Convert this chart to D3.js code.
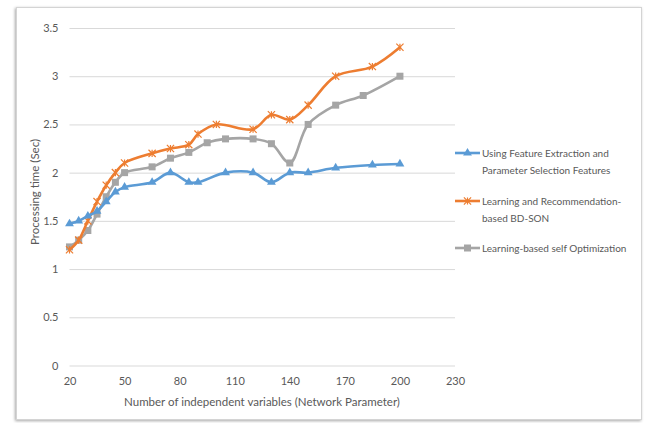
<!DOCTYPE html>
<html>
<head>
<meta charset="utf-8">
<script src="https://cdn.jsdelivr.net/npm/d3@7"></script>
<style>
  html, body { margin: 0; padding: 0; background: #fff; }
  svg { display: block; }
  text { font-family: Lato, "Open Sans", sans-serif; fill: #595959; }
</style>
</head>
<body>
<svg id="chart" width="649" height="423"></svg>
<script>
// Processing time per number of independent variables, three approaches
const seriesNames = [
  ["Using Feature Extraction and", "Parameter Selection Features"],
  ["Learning and Recommendation-", "based BD-SON"],
  ["Learning-based self Optimization"]
];
const seriesColors = ["#5B9BD5", "#ED7D31", "#A5A5A5"];
const seriesMarkers = ["triangle", "asterisk", "square"];

const featureX = [20, 25, 30, 35, 40, 45, 50, 65, 75, 85, 90, 105, 120, 130, 140, 150, 165, 185, 200];
const featureY = [1.47, 1.5, 1.55, 1.6, 1.7, 1.8, 1.85, 1.9, 2.0, 1.9, 1.9, 2.0, 2.0, 1.9, 2.0, 2.0, 2.05, 2.08, 2.09];

const recommendX = [20, 25, 30, 35, 40, 45, 50, 65, 75, 85, 90, 100, 120, 130, 140, 150, 165, 185, 200];
const recommendY = [1.2, 1.3, 1.5, 1.7, 1.87, 2.0, 2.1, 2.2, 2.25, 2.29, 2.4, 2.5, 2.45, 2.6, 2.55, 2.7, 3.0, 3.1, 3.3];

const selfOptX = [20, 25, 30, 35, 40, 45, 50, 65, 75, 85, 95, 105, 120, 130, 140, 150, 165, 180, 200];
const selfOptY = [1.23, 1.3, 1.4, 1.57, 1.75, 1.9, 2.0, 2.06, 2.15, 2.21, 2.31, 2.35, 2.35, 2.3, 2.1, 2.5, 2.7, 2.8, 3.0];

const xTicks = [20, 50, 80, 110, 140, 170, 200, 230];
const yTicks = [0, 0.5, 1, 1.5, 2, 2.5, 3, 3.5];
const xTitle = "Number of independent variables (Network Parameter)";
const yTitle = "Processing time (Sec)";

const series = [
  { name: seriesNames[0], color: seriesColors[0], marker: seriesMarkers[0], pts: featureX.map((x, i) => [x, featureY[i]]) },
  { name: seriesNames[1], color: seriesColors[1], marker: seriesMarkers[1], pts: recommendX.map((x, i) => [x, recommendY[i]]) },
  { name: seriesNames[2], color: seriesColors[2], marker: seriesMarkers[2], pts: selfOptX.map((x, i) => [x, selfOptY[i]]) }
];

const svg = d3.select("#chart");

// frame with soft shadow
const defs = svg.append("defs");
const f = defs.append("filter").attr("id", "shadow").attr("x", "-5%").attr("y", "-5%").attr("width", "110%").attr("height", "110%");
f.append("feDropShadow").attr("dx", -1).attr("dy", 1).attr("stdDeviation", 1.5).attr("flood-color", "#000").attr("flood-opacity", 0.35);
svg.append("rect")
  .attr("x", 16.5).attr("y", 7.5).attr("width", 625).attr("height", 412)
  .attr("fill", "#fff").attr("stroke", "#d4d4d4").attr("filter", "url(#shadow)");

const x = d3.scaleLinear().domain([20, 230]).range([69.5, 455]);
const y = d3.scaleLinear().domain([0, 3.5]).range([365.5, 28]);

// horizontal gridlines
const gy = svg.append("g")
  .attr("transform", `translate(${x(20)},0)`)
  .call(d3.axisLeft(y).tickValues(yTicks).tickSize(-(x(230) - x(20))).tickPadding(11)
    .tickFormat(d => d));
gy.select(".domain").remove();
gy.selectAll(".tick line").attr("stroke", "#d9d9d9").attr("stroke-width", 1);
gy.selectAll(".tick text").attr("font-size", 11).attr("fill", "#595959");

// x labels
const gx = svg.append("g")
  .attr("transform", `translate(0,${y(0)})`)
  .call(d3.axisBottom(x).tickValues(xTicks).tickSize(0).tickPadding(12).tickFormat(d => d));
gx.select(".domain").remove();
gx.selectAll(".tick text").attr("font-size", 11).attr("fill", "#595959");

// axis titles
svg.append("text")
  .attr("x", 262).attr("y", 406)
  .attr("text-anchor", "middle").attr("font-size", 11.5)
  .text(xTitle);
svg.append("text")
  .attr("transform", "translate(39,192) rotate(-90)")
  .attr("text-anchor", "middle").attr("font-size", 11.5)
  .text(yTitle);

const line = d3.line().x(d => x(d[0])).y(d => y(d[1])).curve(d3.curveCatmullRom.alpha(0.5));

function drawMarker(g, type, color, cx, cy) {
  if (type === "triangle") {
    g.append("path").attr("d", d3.symbol(d3.symbolTriangle, 34)())
      .attr("transform", `translate(${cx},${cy})`).attr("fill", color);
  } else if (type === "square") {
    g.append("rect").attr("x", cx - 3.5).attr("y", cy - 3.5).attr("width", 7).attr("height", 7).attr("fill", color);
  } else {
    const r = 3.6;
    g.append("path")
      .attr("d", `M${cx - r},${cy - r}L${cx + r},${cy + r}M${cx - r},${cy + r}L${cx + r},${cy - r}M${cx},${cy - r}L${cx},${cy + r}`)
      .attr("stroke", color).attr("stroke-width", 1.2).attr("fill", "none");
  }
}

// draw order: gray below, orange and blue on top
[2, 1, 0].forEach(i => {
  const s = series[i];
  const g = svg.append("g");
  g.append("path").datum(s.pts).attr("d", line)
    .attr("fill", "none").attr("stroke", s.color).attr("stroke-width", 2.6)
    .attr("stroke-linejoin", "round").attr("stroke-linecap", "round");
  s.pts.forEach(p => drawMarker(g, s.marker, s.color, x(p[0]), y(p[1])));
});

// legend
const legendY = [153, 201, 248];
series.forEach((s, i) => {
  const g = svg.append("g");
  g.append("line").attr("x1", 455).attr("x2", 480).attr("y1", legendY[i]).attr("y2", legendY[i])
    .attr("stroke", s.color).attr("stroke-width", 2.6);
  drawMarker(g, s.marker, s.color, 467.5, legendY[i]);
  s.name.forEach((t, j) => {
    g.append("text").attr("x", 482).attr("y", legendY[i] + 4 + j * 17)
      .attr("font-size", 10).text(t);
  });
});
</script>
</body>
</html>
